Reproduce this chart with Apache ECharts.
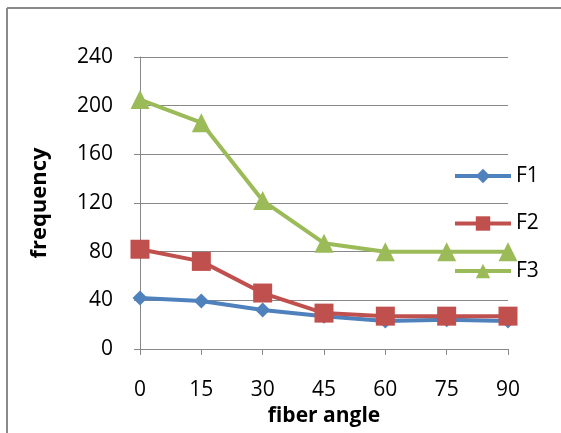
<!DOCTYPE html>
<html><head><meta charset="utf-8">
<script src="https://cdn.jsdelivr.net/npm/echarts@6/dist/echarts.min.js"></script>
<style>html,body{margin:0;padding:0;background:#fff}#c{width:561px;height:433px}</style>
</head><body><div id="c"></div>
<script>
const categories = ['0','15','30','45','60','75','90'];
const F1 = [42, 39.5, 32, 27, 23, 24, 23];
const F2 = [82, 72, 46, 29.5, 27, 27, 27];
const F3 = [205, 186, 122, 87, 80, 80, 80];
const yTicks = [0, 40, 80, 120, 160, 200, 240];

const font = '"Open Sans", "Liberation Sans", sans-serif';
const chart = echarts.init(document.getElementById('c'));
chart.setOption({
  animation: false,
  backgroundColor: '#fff',
  graphic: [
    {type:'line', shape:{x1:7,y1:8,x2:7,y2:433}, style:{stroke:'#8a8a8a', lineWidth:2}},
    {type:'line', shape:{x1:7,y1:8,x2:561,y2:8}, style:{stroke:'#8a8a8a', lineWidth:2}}
  ],
  grid: {left:140, right:53, top:57, bottom:84},
  legend: {
    orient:'vertical', left:453, top:165, padding:0, itemWidth:56, itemHeight:18, itemGap:25.5,
    lineStyle:{width:4},
    textStyle:{fontFamily:font, fontSize:21, color:'#000', lineHeight:22},
    data:['F1','F2','F3']
  },
  xAxis: {
    type:'category', data:categories, boundaryGap:false,
    name:'fiber angle', nameLocation:'middle', nameGap:57,
    nameTextStyle:{fontFamily:font, fontSize:21, fontWeight:'bold', color:'#000'},
    axisLine:{lineStyle:{color:'#888', width:1}},
    axisTick:{show:true, alignWithLabel:true, length:6, lineStyle:{color:'#888'}},
    axisLabel:{fontFamily:font, fontSize:21, color:'#000', margin:31},
    splitLine:{show:false}
  },
  yAxis: {
    type:'value', min:yTicks[0], max:yTicks[yTicks.length-1], interval:40,
    name:'frequency', nameLocation:'middle', nameGap:89, nameRotate:90,
    nameTextStyle:{fontFamily:font, fontSize:22, fontWeight:'bold', color:'#000'},
    axisLine:{show:true, lineStyle:{color:'#888', width:1}},
    axisTick:{show:true, length:6, lineStyle:{color:'#888'}},
    axisLabel:{fontFamily:font, fontSize:21, color:'#000', margin:27},
    splitLine:{lineStyle:{color:'#888', width:1}}
  },
  series: [
    {name:'F1', type:'line', data:F1, color:'#4F81BD', lineStyle:{width:4}, symbol:'diamond', symbolSize:15, itemStyle:{color:'#4F81BD'}},
    {name:'F2', type:'line', data:F2, color:'#C0504D', lineStyle:{width:4}, symbol:'rect', symbolSize:19, itemStyle:{color:'#C0504D'}},
    {name:'F3', type:'line', data:F3, color:'#9BBB59', lineStyle:{width:4}, symbol:'triangle', symbolSize:19, itemStyle:{color:'#9BBB59'}}
  ]
});
</script></body></html>
